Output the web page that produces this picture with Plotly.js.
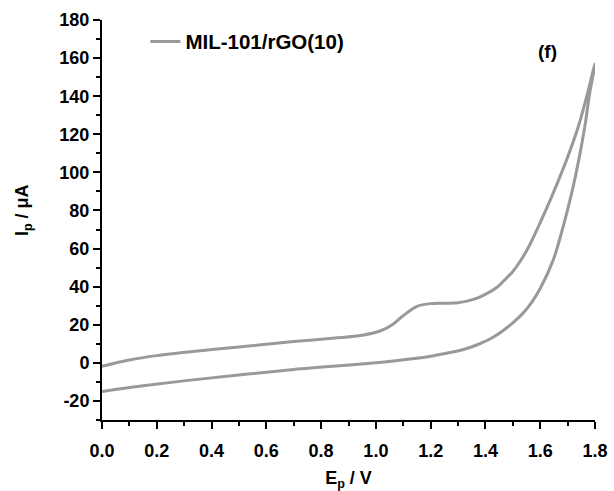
<!DOCTYPE html>
<html>
<head>
<meta charset="utf-8">
<script src="https://cdn.plot.ly/plotly-3.0.1.min.js"></script>
<style>html,body{margin:0;padding:0;background:#fff;}#chart{width:614px;height:491px;}</style>
</head>
<body>
<div id="chart"></div>
<script>
// Forward (anodic) branch
const forwardE = [0.0, 0.1, 0.2, 0.34, 0.5, 0.7, 0.85, 0.95, 1.02, 1.06, 1.09, 1.12, 1.15, 1.2, 1.25, 1.3, 1.37, 1.405, 1.44, 1.47, 1.5, 1.53, 1.56, 1.59, 1.62, 1.65, 1.7, 1.74, 1.77, 1.8];
const forwardI = [-1.8, 1.5, 3.8, 6.1, 8.3, 11.2, 13.0, 14.5, 17.0, 20.0, 23.6, 27.0, 29.7, 31.1, 31.3, 31.5, 34.0, 36.4, 39.4, 43.5, 48.0, 54.0, 61.5, 70.5, 80.0, 90.0, 108.0, 124.5, 140.0, 157.0];
// Reverse (cathodic) branch
const reverseE = [1.78, 1.763, 1.741, 1.715, 1.684, 1.648, 1.6, 1.57, 1.54, 1.5, 1.46, 1.42, 1.37, 1.32, 1.2, 1.14, 1.0, 0.7, 0.34, 0.15, 0.0];
const reverseI = [141.0, 124.2, 106.7, 89.2, 71.7, 54.2, 39.0, 32.0, 26.5, 21.0, 16.5, 12.8, 9.5, 7.0, 3.5, 2.3, 0.0, -3.5, -8.8, -12.0, -15.0];

const seriesName = 'MIL-101/rGO(10)';
const xTicks = [0.0, 0.2, 0.4, 0.6, 0.8, 1.0, 1.2, 1.4, 1.6, 1.8];
const yTicks = [-20, 0, 20, 40, 60, 80, 100, 120, 140, 160, 180];

const E = forwardE.concat(reverseE);
const I = forwardI.concat(reverseI);

const fontFam = 'Liberation Sans, Arial, sans-serif';

const trace = {
  x: E, y: I, mode: 'lines', name: seriesName,
  line: {color: '#999999', width: 3, shape: 'spline', smoothing: 0.9}
};

const axisCommon = {
  showgrid: false, zeroline: false, showline: true, linecolor: '#000', linewidth: 2,
  ticks: 'outside', ticklen: 7, tickwidth: 2, tickcolor: '#000',
  tickfont: {family: fontFam, size: 18, color: '#000', weight: 'bold'},
  mirror: false
};

const layout = {
  width: 614, height: 491,
  margin: {l: 102, r: 19, t: 20, b: 71},
  paper_bgcolor: '#fff', plot_bgcolor: '#fff',
  showlegend: true,
  legend: {x: 0.088, y: 0.946, xanchor: 'left', yanchor: 'middle', bgcolor: 'rgba(0,0,0,0)',
           font: {family: fontFam, size: 20.5, color: '#000', weight: 'bold'}},
  xaxis: Object.assign({}, axisCommon, {
    range: [0, 1.8], tickvals: xTicks, ticktext: xTicks.map(v => v.toFixed(1)),
    ticklabelstandoff: 6,
    minor: {dtick: 0.1, tick0: 0, ticks: 'outside', ticklen: 4, tickwidth: 2, tickcolor: '#000'},
    title: {text: 'E<sub>p</sub> / V', font: {family: fontFam, size: 18, color: '#000', weight: 'bold'}, standoff: 12}
  }),
  yaxis: Object.assign({}, axisCommon, {
    range: [-30, 180], tickvals: yTicks, ticktext: yTicks.map(String),
    minor: {dtick: 10, tick0: 0, ticks: 'outside', ticklen: 4, tickwidth: 2, tickcolor: '#000'},
    title: {text: ''}
  }),
  annotations: [{
    xref: 'paper', yref: 'paper', x: 0.904, y: 0.922, xanchor: 'center', yanchor: 'middle',
    text: '(f)', showarrow: false, font: {family: fontFam, size: 19, color: '#000', weight: 'bold'}
  }, {
    xref: 'paper', yref: 'paper', x: -0.16, y: 0.525, xanchor: 'center', yanchor: 'middle',
    textangle: -90, text: 'I<sub>p</sub> / μA', showarrow: false,
    font: {family: fontFam, size: 18, color: '#000', weight: 'bold'}
  }]
};

Plotly.newPlot('chart', [trace], layout, {displayModeBar: false, staticPlot: true});
</script>
</body>
</html>
